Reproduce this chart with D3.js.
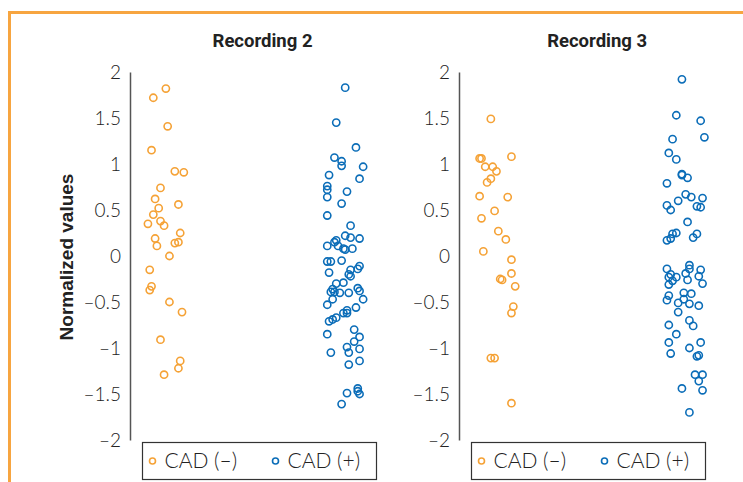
<!DOCTYPE html>
<html>
<head>
<meta charset="utf-8">
<script src="https://cdn.jsdelivr.net/npm/d3@7"></script>
<style>
body { margin: 0; background: #fff; }
</style>
</head>
<body>
<div id="chart"></div>
<script>

// chart data
var panelTitles = ["Recording 2", "Recording 3"];
var groupNames = ["CAD (\u2013)", "CAD (+)"];
var yTicks = [2, 1.5, 1, 0.5, 0, -0.5, -1, -1.5, -2];

// Recording 2, CAD (-) : x = jittered category position, y = normalized value
var rec2NegX = [1.00,0.93,1.01,0.92,1.05,1.10,0.97,0.94,0.96,1.07,0.93,0.90,0.97,0.99,1.08,0.94,0.95,1.05,1.07,1.02,0.91,0.92,0.91,1.02,1.09,0.97,1.08,1.07,0.99];
var rec2NegY = [1.82,1.72,1.41,1.15,0.92,0.91,0.74,0.62,0.52,0.56,0.45,0.35,0.38,0.33,0.25,0.19,0.11,0.14,0.15,0.00,-0.15,-0.33,-0.37,-0.50,-0.61,-0.91,-1.14,-1.22,-1.29];

// Recording 2, CAD (+)
var rec2PosX = [2.00,1.95,2.06,1.94,1.98,1.98,2.10,1.91,2.08,1.90,1.90,1.90,2.01,1.98,1.90,2.03,2.00,2.03,2.08,1.95,1.94,1.90,1.96,1.99,2.00,2.04,
    1.90,1.92,1.98,1.91,2.03,2.08,2.07,2.03,2.02,1.95,1.99,1.93,1.92,1.94,1.97,2.02,2.07,2.08,1.93,2.10,1.90,2.06,2.01,1.99,2.01,1.95,1.93,1.91,2.05,1.90,2.08,2.05,2.01,2.08,2.02,1.92,2.08,2.02,2.07,2.07,2.08,2.01,1.98];
var rec2PosY = [1.83,1.45,1.18,1.07,1.03,0.98,0.97,0.88,0.84,0.76,0.72,0.64,0.70,0.57,0.44,0.33,0.22,0.20,0.19,0.17,0.15,0.11,0.11,0.08,0.07,0.08,
    -0.06,-0.06,-0.05,-0.18,-0.15,-0.11,-0.14,-0.22,-0.20,-0.30,-0.29,-0.36,-0.39,-0.39,-0.40,-0.40,-0.35,-0.38,-0.47,-0.47,-0.53,-0.56,-0.59,-0.62,-0.62,-0.67,-0.69,-0.71,-0.80,-0.85,-0.88,-0.93,-0.99,-1.01,-1.05,-1.05,-1.14,-1.18,-1.44,-1.47,-1.50,-1.49,-1.61];

// Recording 3, CAD (-)
var rec3NegX = [0.97,0.91,0.92,1.08,0.94,0.98,1.00,0.97,0.95,0.91,1.06,0.99,0.92,1.01,1.05,0.93,1.08,1.08,1.02,1.03,1.10,1.09,1.08,0.97,0.99,1.08];
var rec3NegY = [1.49,1.06,1.06,1.08,0.97,0.97,0.92,0.84,0.80,0.65,0.64,0.49,0.41,0.27,0.18,0.05,-0.04,-0.19,-0.25,-0.26,-0.33,-0.55,-0.62,-1.11,-1.11,-1.60];

// Recording 3, CAD (+)
var rec3PosX = [1.99,1.96,2.09,2.11,1.94,1.92,1.96,1.99,1.99,2.02,1.91,2.01,2.04,2.10,1.97,1.91,1.93,2.07,2.09,2.02,1.96,1.94,1.93,1.91,2.07,2.05,
    1.91,2.03,2.03,2.09,2.01,1.93,1.92,1.96,1.94,2.02,2.08,1.92,2.10,2.00,2.04,1.92,1.91,2.00,1.97,2.03,2.08,1.97,2.03,2.05,1.92,1.96,1.92,2.09,2.03,1.93,2.07,2.08,2.06,2.10,2.08,1.99,2.10,2.03];
var rec3PosY = [1.92,1.53,1.47,1.29,1.27,1.12,1.05,0.88,0.89,0.85,0.79,0.67,0.64,0.63,0.60,0.55,0.50,0.54,0.53,0.37,0.25,0.24,0.19,0.17,0.24,0.20,
    -0.14,-0.10,-0.14,-0.15,-0.19,-0.20,-0.23,-0.23,-0.27,-0.26,-0.22,-0.31,-0.30,-0.40,-0.41,-0.43,-0.48,-0.47,-0.51,-0.52,-0.54,-0.61,-0.70,-0.76,-0.75,-0.85,-0.94,-0.94,-1.00,-1.06,-1.09,-1.08,-1.29,-1.29,-1.36,-1.44,-1.46,-1.70];

var colors = ["#F5A236", "#0B6DB8"];

var width = 743, height = 482;

var svg = d3.select("#chart").append("svg")
    .attr("width", width)
    .attr("height", height);

// orange frame round the figure (runs off right & bottom)
svg.append("path")
    .attr("d", "M9.5," + height + "V12.5H" + width)
    .attr("fill", "none")
    .attr("stroke", "#F7A540")
    .attr("stroke-width", 3);

var y = d3.scaleLinear().domain([-2, 2]).range([440, 72]);

var panels = [
    {title: panelTitles[0], left: 130, right: 399, series: [[rec2NegX, rec2NegY], [rec2PosX, rec2PosY]]},
    {title: panelTitles[1], left: 459, right: 740, series: [[rec3NegX, rec3NegY], [rec3PosX, rec3PosY]]}
];

function fmt(d) {
    return (d < 0 ? "\u2013" : "") + Math.abs(d);
}

panels.forEach(function(p) {
    var x = d3.scaleLinear().domain([0.8, 2.3]).range([p.left, p.right]);
    var g = svg.append("g");

    var ax = g.append("g")
        .attr("transform", "translate(" + p.left + ",0)")
        .call(d3.axisLeft(y).tickValues(yTicks).tickSize(0).tickSizeOuter(0).tickPadding(9).tickFormat(fmt));
    ax.select(".domain").attr("stroke", "#555").attr("stroke-width", 1.5);
    ax.selectAll("text")
        .attr("font-family", "Lato, sans-serif")
        .attr("font-weight", 300)
        .attr("font-size", 19)
        .attr("fill", "#222");

    g.append("text")
        .attr("x", x(1.5) + 7)
        .attr("y", 47)
        .attr("text-anchor", "middle")
        .attr("font-family", "Roboto, sans-serif")
        .attr("font-weight", 700)
        .attr("font-size", 18.5)
        .attr("fill", "#222")
        .text(p.title);

    p.series.forEach(function(s, k) {
        var pts = s[0].map(function(xv, i) { return [xv, s[1][i]]; });
        g.selectAll(".pt" + k)
            .data(pts)
            .enter().append("circle")
            .attr("class", "pt" + k)
            .attr("cx", function(d) { return x(d[0]); })
            .attr("cy", function(d) { return y(d[1]); })
            .attr("r", 3.6)
            .attr("fill", "none")
            .attr("stroke", colors[k])
            .attr("stroke-width", 1.6);
    });

    // legend box
    var lg = g.append("g").attr("transform", "translate(" + (p.left + 12.5) + ",442.5)");
    lg.append("rect")
        .attr("width", 234)
        .attr("height", 37)
        .attr("fill", "#fff")
        .attr("stroke", "#333")
        .attr("stroke-width", 1.2);
    groupNames.forEach(function(name, k) {
        var ox = 10 + k * 123;
        lg.append("circle")
            .attr("cx", ox)
            .attr("cy", 18.5)
            .attr("r", 3)
            .attr("fill", "none")
            .attr("stroke", colors[k])
            .attr("stroke-width", 1.6);
        lg.append("text")
            .attr("x", ox + 12)
            .attr("y", 18.5)
            .attr("dy", "0.35em")
            .attr("font-family", "Lato, sans-serif")
            .attr("font-weight", 300)
            .attr("font-size", 21)
            .attr("fill", "#222")
            .text(name);
    });
});

// y label
svg.append("text")
    .attr("transform", "translate(73,257) rotate(-90)")
    .attr("text-anchor", "middle")
    .attr("font-family", "'Liberation Sans', Arial, sans-serif")
    .attr("font-weight", 700)
    .attr("font-size", 19)
    .attr("fill", "#222")
    .text("Normalized values");

</script>
</body>
</html>
